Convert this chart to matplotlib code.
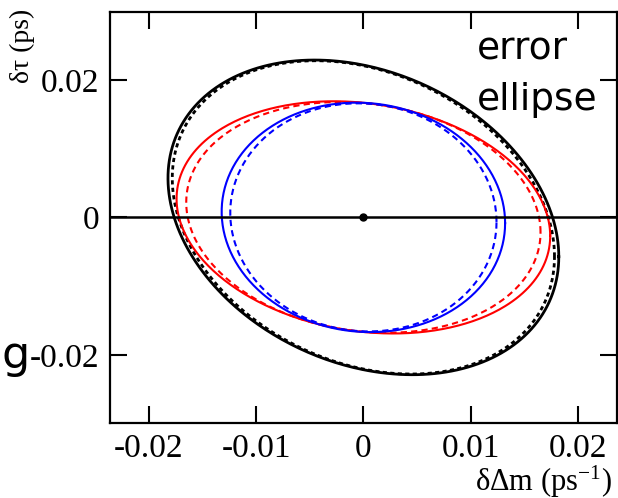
import numpy as np
import matplotlib
matplotlib.use('Agg')
import matplotlib.pyplot as plt

# 1-sigma error contours in the (delta dm, delta tau) plane
contour_color = ['black', 'black', 'red', 'red', 'blue', 'blue']
contour_style = ['-', (0, (1.5, 1.2)), '-', (0, (3, 2)), '-', (0, (3, 2))]
sigma_dm = [0.0182, 0.0178, 0.0174, 0.0165, 0.0132, 0.0124]     # ps^-1
sigma_tau = [0.0229, 0.0228, 0.0169, 0.0168, 0.0167, 0.0166]    # ps
rho = [-0.25, -0.25, -0.16, -0.13, -0.05, -0.04]

x_ticks = [-0.02, -0.01, 0, 0.01, 0.02]
x_tick_labels = ['-0.02', '-0.01', '0', '0.01', '0.02']
y_ticks = [-0.02, 0, 0.02]
y_tick_labels = ['-0.02', '0', '0.02']

plt.rcParams['font.family'] = ['Liberation Serif', 'DejaVu Serif']
plt.rcParams['mathtext.fontset'] = 'custom'
plt.rcParams['mathtext.rm'] = 'Liberation Serif'
plt.rcParams['mathtext.it'] = 'Liberation Serif'

fig = plt.figure(figsize=(6.18, 4.98), dpi=100)
ax = fig.add_axes([0.178, 0.151, 0.820, 0.825])

t = np.linspace(0, 2 * np.pi, 400)
for col, ls, sx, sy, r in zip(contour_color, contour_style, sigma_dm, sigma_tau, rho):
    x = sx * np.cos(t)
    y = sy * (r * np.cos(t) + np.sqrt(1 - r ** 2) * np.sin(t))
    lw = 2.0 if col == 'black' else 1.5
    ax.plot(x, y, color=col, linestyle=ls, linewidth=lw)

ax.axhline(0, color='black', linewidth=1.8)
ax.plot([0], [0], 'o', color='black', markersize=5)

ax.set_xlim(-0.0236, 0.0236)
ax.set_ylim(-0.0299, 0.0299)
ax.set_xticks(x_ticks)
ax.set_xticklabels(x_tick_labels)
ax.set_yticks(y_ticks)
ax.set_yticklabels(y_tick_labels)
ax.tick_params(direction='in', length=12, width=1.5, top=True, right=True,
               labelsize=24, pad=8, colors='black')
for sp in ax.spines.values():
    sp.set_linewidth(1.6)

fig.text(0.990, 0.015, r'δΔm (ps$^{-1}$)', fontsize=22, ha='right', va='baseline')
fig.text(0.036, 0.982, 'δτ (ps)', fontsize=20, rotation=90, ha='center', va='top')

# annotation text
fig.text(477 / 618, 1 - 60 / 498, 'error', fontsize=27,
         family='DejaVu Sans', ha='left', va='baseline')
fig.text(477 / 618, 1 - 110 / 498, 'ellipse', fontsize=27,
         family='DejaVu Sans', ha='left', va='baseline')
fig.text(0.003, 0.287, 'g', fontsize=32, family='DejaVu Sans',
         ha='left', va='center')

fig.savefig('out.png', dpi=100)
